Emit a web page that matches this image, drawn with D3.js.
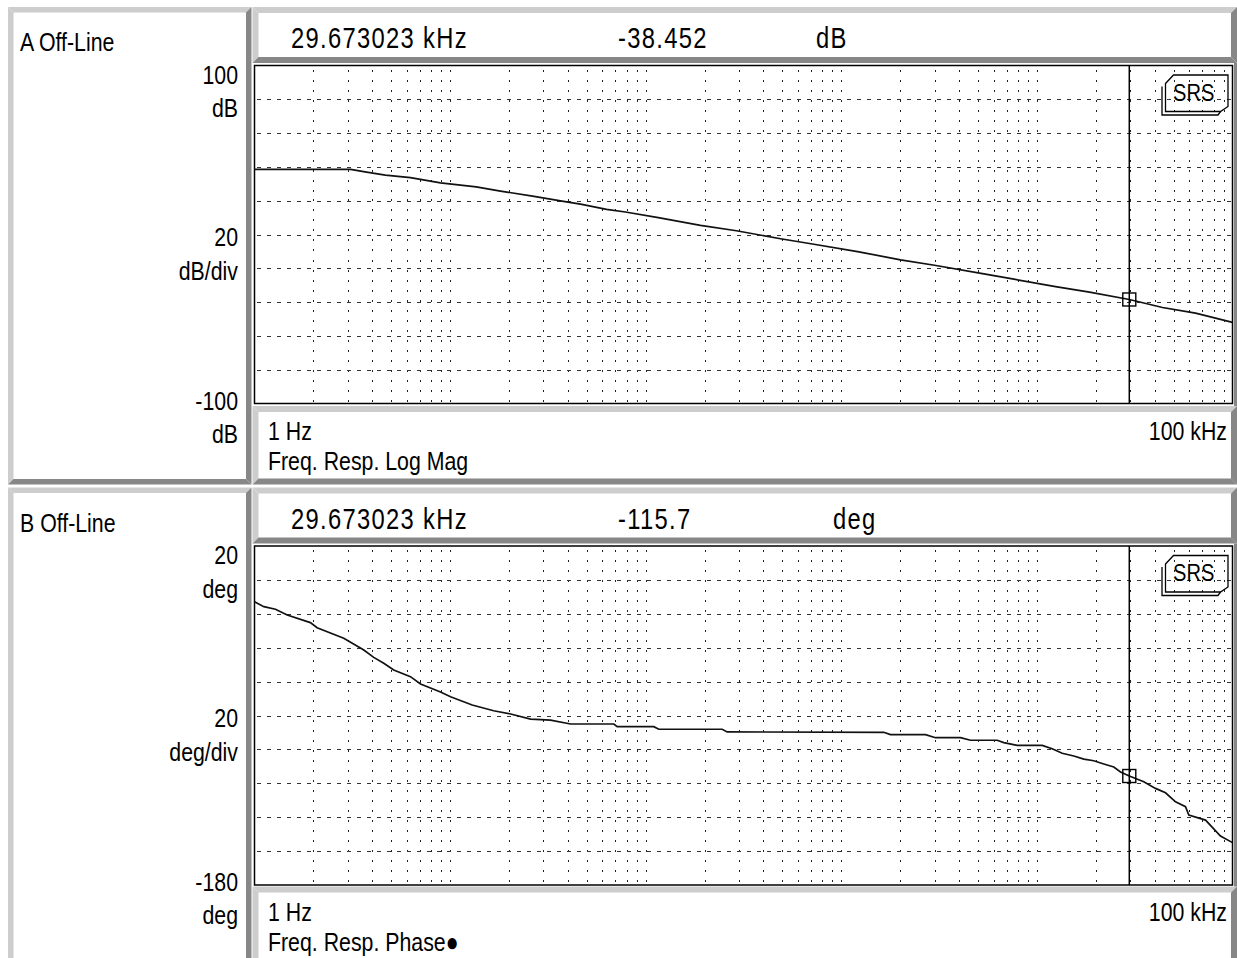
<!DOCTYPE html>
<html><head><meta charset="utf-8">
<script src="https://cdn.jsdelivr.net/npm/d3@7"></script>
<style>
html,body{margin:0;padding:0;background:#fff;overflow:hidden;}
svg{display:block;}
text{font-family:"Liberation Sans",Arial,sans-serif;fill:#000;}
</style></head><body>
<svg id="c" width="1237" height="958"></svg>
<script>
// ---------- data ----------
const freqRange = [1, 100000];
const magRange = [-100, 100];
const phaseRange = [-180, 20];

const magFreq = [1, 3.1, 3.74, 4.67, 6.27, 8.93, 13.6, 18.1, 26.4, 38.0, 46.4, 63.1, 78.8, 116, 190.6, 291, 489, 712, 1211, 2008, 2995, 5270, 7500, 12450, 18580, 29673, 43850, 64700, 100000];
const magDb = [38.5, 38.5, 36.9, 35.1, 33.7, 30.6, 28.2, 25.7, 22.7, 19.6, 18.0, 14.9, 13.3, 10.0, 5.4, 2.2, -2.5, -5.6, -10.1, -15.0, -18.2, -23.1, -26.3, -30.8, -34.1, -38.45, -43.2, -46.5, -52.0];

const phaseFreq = [1, 1.116, 1.28, 1.47, 1.93, 2.09, 2.86, 3.62, 4.07, 4.58, 5.15, 6.27, 7.06, 8.93, 10.05, 12.97, 16.7, 20.4, 25.8, 32.6, 41.3, 68.7, 71.5, 110, 116.7, 246, 261, 1649, 1784, 2695, 3031, 4069, 4577, 6266, 6772, 7930, 10640, 11970, 13470, 15440, 17370, 19540, 21980, 24730, 26760, 29673, 35200, 40400, 45450, 51140, 57500, 59800, 72800, 86800, 100000];
const phaseDeg = [-12.9, -15.8, -17.3, -20.7, -25.2, -28.2, -34.4, -41.4, -45.7, -49.2, -53.2, -57.1, -61.4, -66.1, -68.9, -73.8, -77.2, -79.1, -82.1, -82.7, -85.0, -85.0, -86.6, -86.6, -88.1, -88.1, -89.7, -89.9, -91.3, -91.3, -93.1, -93.1, -94.6, -94.6, -96.0, -97.6, -97.6, -99.6, -102.3, -103.9, -105.7, -106.7, -108.6, -110.4, -113.3, -115.7, -119.1, -123.0, -125.6, -130.9, -133.8, -138.7, -141.7, -151.1, -155.0];

const markerFreq = 29673.023;
const markerMag = -38.452;
const markerPhase = -115.7;

const panelNames = ["A Off-Line", "B Off-Line"];
const yLabelsA = ["100", "dB", "20", "dB/div", "-100", "dB"];
const yLabelsB = ["20", "deg", "20", "deg/div", "-180", "deg"];
const unitLabels = ["dB", "deg"];
const xStartLabel = "1 Hz";
const xEndLabel = "100 kHz";
const traceTitles = ["Freq. Resp. Log Mag", "Freq. Resp. Phase\u25CF"];
const logoText = "SRS";

// ---------- drawing ----------
const svg = d3.select("#c");
const LIGHT = "#cdcdcd", DARK = "#878787";
const NARROW = 0.82;

function txt(parent, x, y, str, size, anchor, ls) {
  const t = parent.append("text")
    .attr("transform", `translate(${x},${y}) scale(${NARROW},1)`)
    .attr("font-size", size)
    .attr("text-anchor", anchor || "start")
    .text(str);
  if (ls) t.attr("letter-spacing", ls);
  return t;
}

function bevel(x0, y0, x1, y1, w) {
  const g = svg.append("g");
  const polys = [
    {c: LIGHT, p: [[x0,y0],[x1,y0],[x1-w,y0+w],[x0+w,y0+w]]},
    {c: LIGHT, p: [[x0,y0],[x0+w,y0+w],[x0+w,y1-w],[x0,y1]]},
    {c: DARK,  p: [[x0,y1],[x0+w,y1-w],[x1-w,y1-w],[x1,y1]]},
    {c: DARK,  p: [[x1,y0],[x1,y1],[x1-w,y1-w],[x1-w,y0+w]]}
  ];
  g.selectAll("polygon").data(polys).join("polygon")
    .attr("points", d => d.p.map(q => q.join(",")).join(" "))
    .attr("fill", d => d.c);
}

const PL = 254.5, PR = 1232.5;
const panels = [
  {dy: 0, top: 65.5, bot: 403.5, domain: magRange, fx: magFreq, fy: magDb, my: markerMag,
   labels: yLabelsA, unit: unitLabels[0], unitX: 816, val: markerMag.toFixed(3), name: panelNames[0], title: traceTitles[0]},
  {dy: 480.5, top: 546, bot: 885, domain: phaseRange, fx: phaseFreq, fy: phaseDeg, my: markerPhase,
   labels: yLabelsB, unit: unitLabels[1], unitX: 833, val: markerPhase.toFixed(1), name: panelNames[1], title: traceTitles[1]}
];
const labelY = [83.5, 117, 246, 280, 410, 443];

panels.forEach((P, i) => {
  const dy = P.dy;
  // frames
  bevel(8, 7 + dy, 251.5, i === 1 ? 1000 : 484.5, 5.5);
  bevel(252.5, 7 + dy, 1237, 63 + dy, 6);
  bevel(252.5, 406 + dy, 1237, i === 1 ? 1000 : 484.5, 6);
  svg.append("rect").attr("x", 1234).attr("y", 63 + dy).attr("width", 3).attr("height", 343)
    .attr("fill", DARK);

  const x = d3.scaleLog().domain(freqRange).range([PL, PR]);
  const y = d3.scaleLinear().domain(P.domain).range([P.bot, P.top]);
  const g = svg.append("g");

  // grid
  const xt = x.ticks().filter(t => t > freqRange[0] && t < freqRange[1]);
  g.selectAll("line.vg").data(xt).join("line").attr("class", "vg")
    .attr("x1", d => Math.round(x(d)) + 0.5).attr("x2", d => Math.round(x(d)) + 0.5)
    .attr("y1", P.top + 4).attr("y2", P.bot)
    .attr("stroke", "#222").attr("stroke-width", 1).attr("stroke-dasharray", "2,8")
    .attr("shape-rendering", "crispEdges");
  const yt = y.ticks(10).filter(t => t > P.domain[0] && t < P.domain[1]);
  g.selectAll("line.hg").data(yt).join("line").attr("class", "hg")
    .attr("y1", d => Math.round(y(d)) + 0.5).attr("y2", d => Math.round(y(d)) + 0.5)
    .attr("x1", PL + 2).attr("x2", PR)
    .attr("stroke", "#333").attr("stroke-width", 1).attr("stroke-dasharray", "4,6")
    .attr("shape-rendering", "crispEdges");

  // plot border
  g.append("rect").attr("x", PL).attr("y", P.top).attr("width", PR - PL).attr("height", P.bot - P.top)
    .attr("fill", "none").attr("stroke", "#000").attr("stroke-width", 1.5);

  // trace
  const pts = P.fx.map((f, k) => [f, P.fy[k]]);
  g.append("path").datum(pts)
    .attr("d", d3.line().x(d => x(d[0])).y(d => y(d[1])))
    .attr("fill", "none").attr("stroke", "#111").attr("stroke-width", 1.7);

  // cursor + marker
  const mx = x(markerFreq), myy = y(P.my);
  g.append("line").attr("x1", mx).attr("x2", mx).attr("y1", P.top).attr("y2", P.bot)
    .attr("stroke", "#000").attr("stroke-width", 1.5);
  g.append("rect").attr("x", mx - 6.5).attr("y", myy - 6.5).attr("width", 13).attr("height", 13)
    .attr("fill", "none").attr("stroke", "#000").attr("stroke-width", 1.4);

  // SRS logo
  const R = PR, T = P.top;
  const front = [[R-67,T+18],[R-59,T+9.5],[R-4.5,T+9.5],[R-4.5,T+41],[R-12,T+46],[R-67,T+46]];
  g.append("polygon").attr("points", front.map(q => q.join(",")).join(" "))
    .attr("fill", "none").attr("stroke", "#000").attr("stroke-width", 1.3);
  const shadow = [[R-70.5,T+21],[R-70.5,T+49.5],[R-14.5,T+49.5],[R-12,T+46]];
  g.append("polyline").attr("points", shadow.map(q => q.join(",")).join(" "))
    .attr("fill", "none").attr("stroke", "#000").attr("stroke-width", 1.3);
  txt(g, R - 59.5, T + 35.2, logoText, 24.5);

  // left labels
  txt(svg, 20, 51 + dy, P.name, 26);
  P.labels.forEach((l, k) => txt(svg, 238, labelY[k] + dy, l, 26, "end"));

  // header
  txt(svg, 291, 48 + dy, (markerFreq / 1000).toFixed(6) + " kHz", 29, "start", 1.6);
  txt(svg, 618, 48 + dy, P.val, 29, "start", 1.6);
  txt(svg, P.unitX, 48 + dy, P.unit, 29, "start", 1.6);

  // footer
  txt(svg, 268, 440 + dy, xStartLabel, 26);
  txt(svg, 1227, 440 + dy, xEndLabel, 26, "end");
  txt(svg, 268, 470 + dy, P.title, 26);
});
</script>
</body></html>
